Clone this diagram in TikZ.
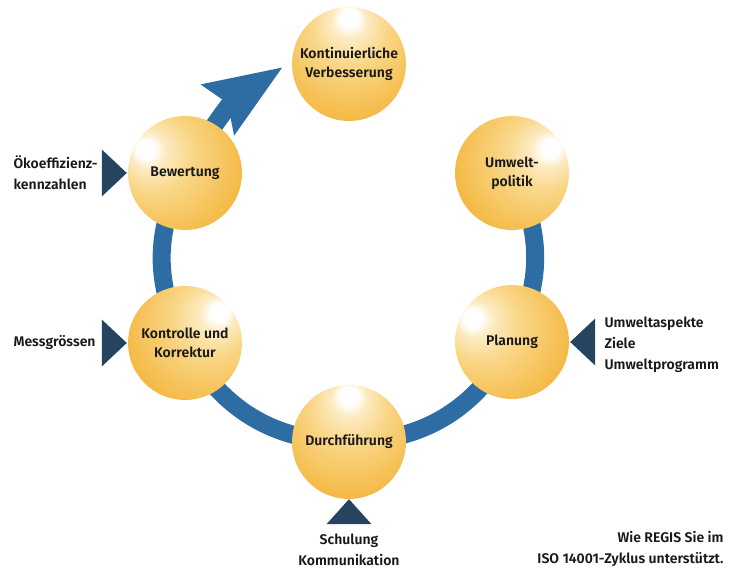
\documentclass[tikz,border=0pt]{standalone}
\usepackage{fontspec}
\setmainfont{Fira Sans}[BoldFont={Fira Sans SemiBold}]
\usetikzlibrary{arrows.meta,backgrounds}
\definecolor{ringblue}{HTML}{2E6DA4}
\definecolor{pointblue}{HTML}{264360}
\definecolor{ballcream}{HTML}{FCEAC0}
\definecolor{balllight}{HTML}{F9D686}
\definecolor{ballgold}{HTML}{F4B944}
\definecolor{ballorange}{HTML}{E9990F}
\definecolor{balldeep}{HTML}{E08A05}
\pgfdeclareradialshading{goldball}{\pgfpoint{-15.5bp}{15.5bp}}{color(0bp)=(white); color(4bp)=(white); color(8bp)=(ballcream); color(17bp)=(balllight); color(34bp)=(ballgold); color(50bp)=(ballorange); color(58bp)=(balldeep)}
\begin{document}
\begin{tikzpicture}[x=1pt, y=1pt,
    main/.style = {circle, minimum size=114pt, inner sep=0pt, shade, shading=goldball, align=center, text=black!90, font=\fontsize{14pt}{19pt}\selectfont\bfseries},
    side/.style = {text=black!90, font=\fontsize{14pt}{21pt}\selectfont\bfseries},
    ring/.style = {draw=ringblue, line width=18pt},
    pointer/.style = {fill=pointblue}]
    \useasboundingbox (0,0) rectangle (732,570);
    \node[main, shading angle=-45] (1) at (349,506) {Kontinuierliche\\Verbesserung};
    \node[main, shading angle=-102] (2) at (512,397) {Umwelt-\\politik};
    \node[main, shading angle=14] (3) at (512,228) {Planung};
    \node[main, shading angle=-45] (4) at (349,128) {Durchführung};
    \node[main, shading angle=-93] (5) at (185,227) {Kontrolle und\\Korrektur};
    \node[main, shading angle=14] (6) at (185,397) {Bewertung};
    \coordinate (tip) at (283,503);
    \begin{scope}[on background layer]
        \draw[ring] (2.center) to[bend left=28] (3.center) to[bend left=31] (4.center)
            to[bend left=31] (5.center) to[bend left=28] (6.center);
        \draw[ring, -{Stealth[length=76pt, width=57pt, inset=10pt]}] (6.center) to[bend left=14] (tip);
    \end{scope}
    % pointers
    \fill[pointer] (6.west) ++(-1,0) -- ++(-25,23.5) -- ++(0,-47) -- cycle;
    \fill[pointer] (5.west) ++(-1,0) -- ++(-25,23.5) -- ++(0,-47) -- cycle;
    \fill[pointer] (3.east) ++(1,0) -- ++(25,23.5) -- ++(0,-47) -- cycle;
    \fill[pointer] (4.south) -- ++(-22.5,-25) -- ++(45,0) -- cycle;
    \node[side, align=left, anchor=west] (oeko) at (10,397) {Ökoeffizienz-\\kennzahlen};
    \node[side, anchor=west] (mess) at (10,227) {Messgrössen};
    \node[side, align=left, anchor=west] (aspekte) at (601,225) {Umweltaspekte\\Ziele\\Umweltprogramm};
    \node[side, align=center] (schulung) at (349,20) {Schulung\\Kommunikation};
    \node[side, align=right, anchor=east] (regis) at (727,21) {Wie REGIS Sie im\\ISO 14001-Zyklus unterstützt.};
\end{tikzpicture}
\end{document}
